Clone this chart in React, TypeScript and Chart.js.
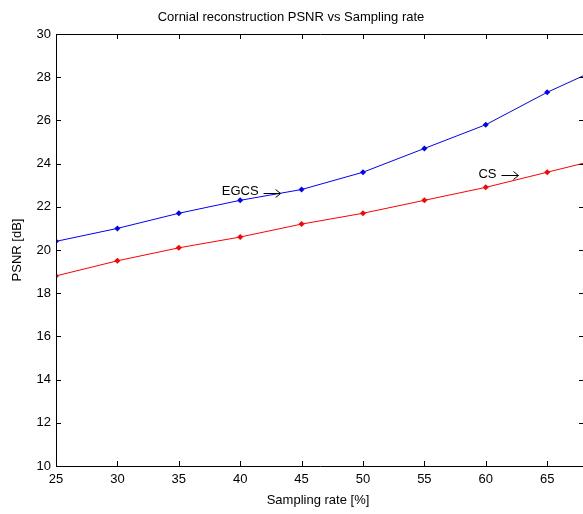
import React, { useEffect, useRef } from "react";
import { Chart, registerables } from "chart.js";

Chart.register(...registerables);

const samplingRates = [25, 30, 35, 40, 45, 50, 55, 60, 65, 70];
const egcsPsnr = [20.4, 21.0, 21.7, 22.3, 22.8, 23.6, 24.7, 25.8, 27.3, 28.6];
const csPsnr = [18.8, 19.5, 20.1, 20.6, 21.2, 21.7, 22.3, 22.9, 23.6, 24.3];
const xTicks = [25, 30, 35, 40, 45, 50, 55, 60, 65];
const yTicks = [10, 12, 14, 16, 18, 20, 22, 24, 26, 28, 30];
const annotations = [
  { text: "EGCS", x: 38.5, y: 22.7 },
  { text: "CS", x: 59.4, y: 23.5 },
];
const titleText = "Cornial reconstruction PSNR vs Sampling rate";
const xTitle = "Sampling rate [%]";
const yTitle = "PSNR [dB]";

const FONT = "'Liberation Sans', Arial, sans-serif";

const framePlugin = {
  id: "frame",
  afterDraw(chart: any) {
    const { ctx, chartArea } = chart;
    const { left, right, top, bottom } = chartArea;
    const xs = chart.scales.x;
    const ys = chart.scales.y;
    ctx.save();
    ctx.strokeStyle = "#000";
    ctx.lineWidth = 1;
    ctx.beginPath();
    ctx.moveTo(left + 0.5, top + 0.5);
    ctx.lineTo(right + 0.5, top + 0.5);
    ctx.lineTo(right + 0.5, bottom + 0.5);
    ctx.lineTo(left + 0.5, bottom + 0.5);
    ctx.closePath();
    const tl = 5;
    xTicks.forEach((v) => {
      const px = Math.round(xs.getPixelForValue(v)) + 0.5;
      ctx.moveTo(px, bottom);
      ctx.lineTo(px, bottom - tl);
      ctx.moveTo(px, top);
      ctx.lineTo(px, top + tl);
    });
    yTicks.forEach((v) => {
      const py = Math.round(ys.getPixelForValue(v)) + 0.5;
      ctx.moveTo(left, py);
      ctx.lineTo(left + tl, py);
      ctx.moveTo(right, py);
      ctx.lineTo(right - tl, py);
    });
    ctx.stroke();

    ctx.fillStyle = "#000";
    ctx.font = `13px ${FONT}`;
    ctx.textBaseline = "middle";
    ctx.textAlign = "left";
    annotations.forEach((a) => {
      const tx = xs.getPixelForValue(a.x);
      const ty = ys.getPixelForValue(a.y);
      ctx.fillText(a.text, tx, ty);
      const w = ctx.measureText(a.text).width;
      const ax0 = tx + w + 5;
      const ax1 = ax0 + 17;
      const ay = Math.round(ty) + 1.5;
      ctx.beginPath();
      ctx.moveTo(ax0, ay);
      ctx.lineTo(ax1, ay);
      ctx.moveTo(ax1 - 5, ay - 4);
      ctx.lineTo(ax1, ay);
      ctx.lineTo(ax1 - 5, ay + 4);
      ctx.stroke();
    });

    ctx.textAlign = "center";
    ctx.fillText(titleText, 291, 17);
    ctx.fillText(xTitle, 318, 500);
    ctx.translate(17, 250);
    ctx.rotate(-Math.PI / 2);
    ctx.fillText(yTitle, 0, 0);
    ctx.restore();
  },
};

export default function App() {
  const ref = useRef<HTMLCanvasElement>(null);
  useEffect(() => {
    if (!ref.current) return;
    const chart = new Chart(ref.current, {
      type: "line",
      data: {
        datasets: [
          {
            label: "EGCS",
            data: samplingRates.map((x, i) => ({ x, y: egcsPsnr[i] })),
            borderColor: "#0000ff",
            backgroundColor: "#0000ff",
            borderWidth: 1,
            pointStyle: "rectRot",
            pointRadius: 3,
            pointBorderWidth: 0,
          },
          {
            label: "CS",
            data: samplingRates.map((x, i) => ({ x, y: csPsnr[i] })),
            borderColor: "#ff0000",
            backgroundColor: "#ff0000",
            borderWidth: 1,
            pointStyle: "rectRot",
            pointRadius: 3,
            pointBorderWidth: 0,
          },
        ],
      },
      options: {
        animation: false,
        responsive: false,
        layout: { padding: { top: 34, right: 16, left: 0, bottom: 0 } },
        plugins: { legend: { display: false }, tooltip: { enabled: false }, title: { display: false } },
        scales: {
          x: {
            type: "linear",
            min: 25,
            max: 68,
            grid: { display: false, drawTicks: false, tickLength: 0 },
            border: { display: false },
            afterBuildTicks: (s: any) => {
              s.ticks = xTicks.map((v) => ({ value: v }));
            },
            afterFit: (s: any) => {
              s.height = 48;
            },
            ticks: {
              color: "#000",
              font: { family: FONT, size: 13 },
              padding: 6,
              maxRotation: 0,
              autoSkip: false,
            },
          },
          y: {
            type: "linear",
            min: 10,
            max: 30,
            grid: { display: false, drawTicks: false, tickLength: 0 },
            border: { display: false },
            afterBuildTicks: (s: any) => {
              s.ticks = yTicks.map((v) => ({ value: v }));
            },
            afterFit: (s: any) => {
              s.width = 56;
            },
            ticks: {
              color: "#000",
              font: { family: FONT, size: 13 },
              padding: 5,
              autoSkip: false,
            },
          },
        },
      },
      plugins: [framePlugin],
    });
    return () => chart.destroy();
  }, []);
  return (
    <div style={{ position: "fixed", left: 0, top: 0, width: 583, height: 514, overflow: "hidden", background: "#fff" }}>
      <canvas ref={ref} width={600} height={514} style={{ width: 600, height: 514 }} />
    </div>
  );
}
